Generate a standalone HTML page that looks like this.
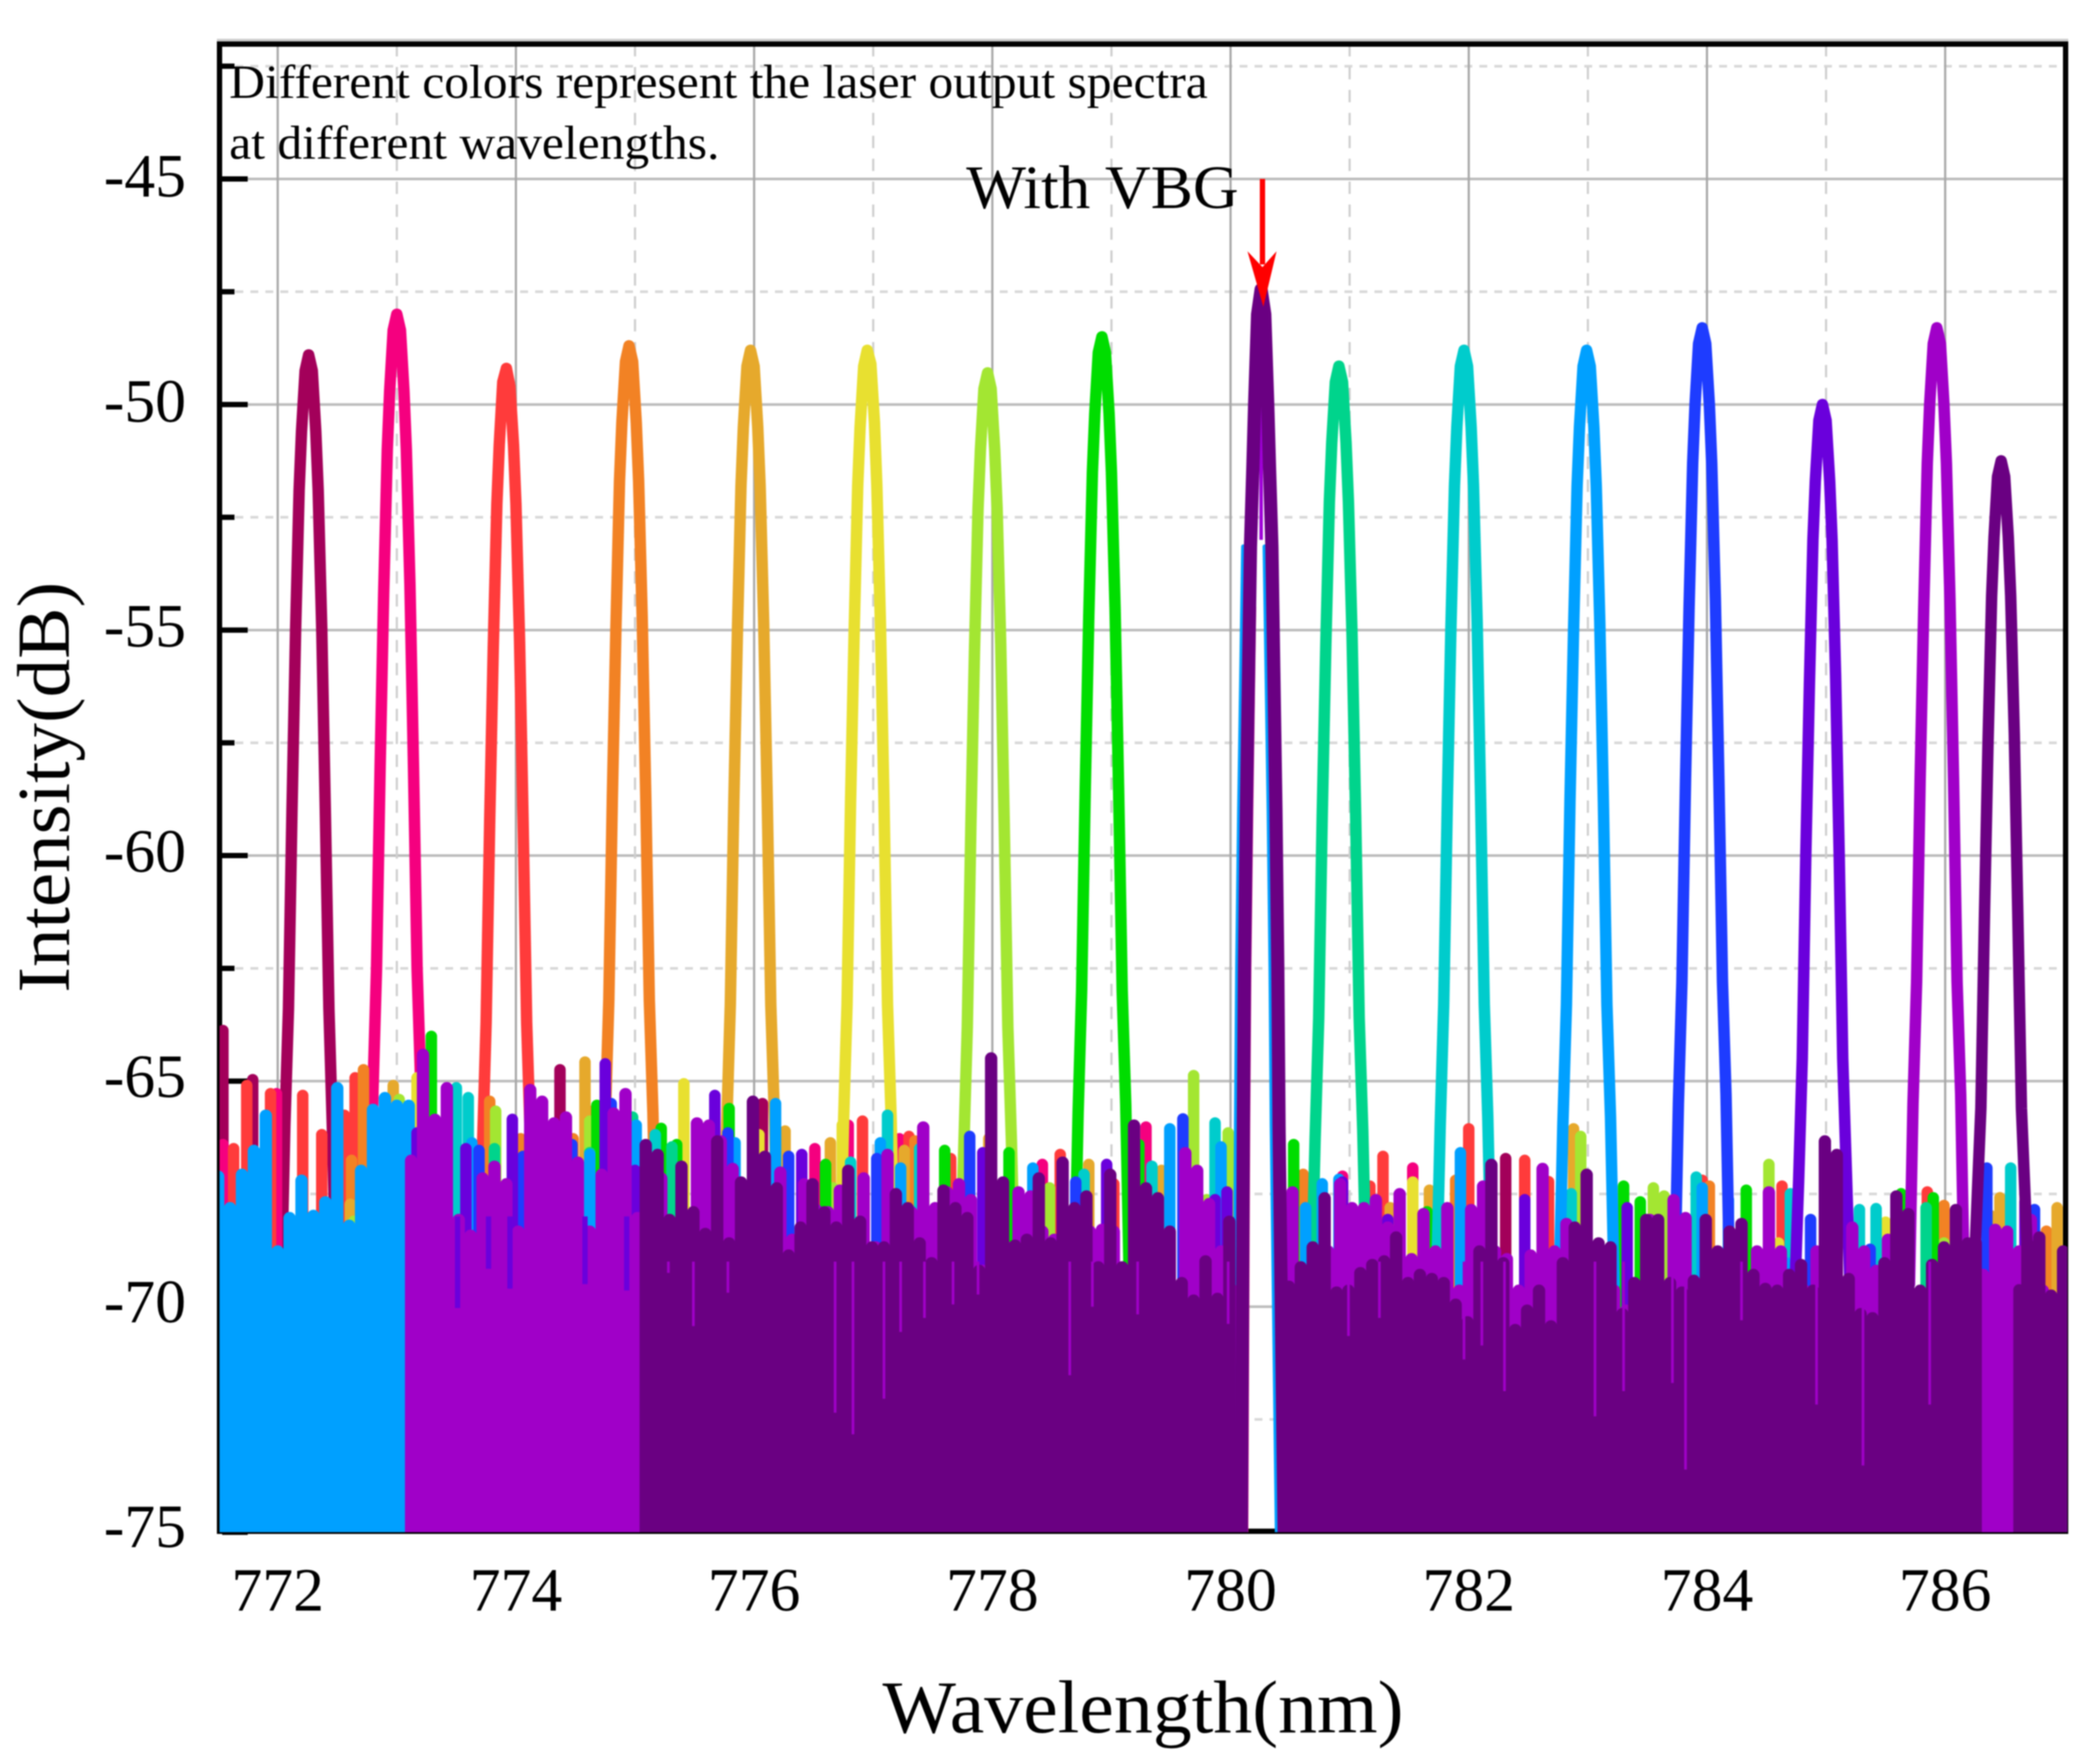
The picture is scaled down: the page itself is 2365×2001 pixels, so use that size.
<!DOCTYPE html>
<html lang="en">
<head>
<meta charset="utf-8">
<title>Laser output spectra with VBG</title>
<style>
html,body{margin:0;padding:0;background:#fff;width:2365px;height:2001px;overflow:hidden}
#chart{display:block;filter:blur(0.9px)}
text{font-family:"Liberation Serif","Times New Roman",serif;fill:#000}
</style>
</head>
<body>
<svg id="chart" xmlns="http://www.w3.org/2000/svg" width="2365" height="2001" viewBox="0 0 2365 2001">
  <defs><clipPath id="plot-clip"><rect x="249" y="50" width="2096" height="1688"/></clipPath></defs>
  <rect x="0" y="0" width="2365" height="2001" fill="#fff"/>
  <g id="grid"></g>
  <line x1="246" y1="45.5" x2="2346" y2="45.5" stroke="#ccc" stroke-width="3"/>
  <rect x="249" y="50" width="2094" height="1687" fill="none" stroke="#000" stroke-width="6"/>
  <g id="ticks"></g>
  <g id="marks" clip-path="url(#plot-clip)"></g>
  <g id="labels"></g>
  <text x="260" y="111" font-size="54" textLength="1110" lengthAdjust="spacingAndGlyphs">Different colors represent the laser output spectra</text>
  <text x="260" y="180" font-size="54" textLength="556" lengthAdjust="spacingAndGlyphs">at different wavelengths.</text>
  <text x="1096" y="236" font-size="70" textLength="309" lengthAdjust="spacingAndGlyphs">With VBG</text>
  <line x1="1432" y1="203" x2="1432" y2="300" stroke="#ff0000" stroke-width="6"/>
  <polygon points="1415,285 1432,303 1448,285 1433,348" fill="#ff0000"/>
  <text x="1001" y="1965" font-size="85" textLength="591" lengthAdjust="spacingAndGlyphs">Wavelength(nm)</text>
  <text transform="translate(78,1126) rotate(-90)" x="0" y="0" font-size="85" textLength="466" lengthAdjust="spacingAndGlyphs">Intensity(dB)</text>
</svg>
<script>
// ---- axis labels and ticks ----
const xMajorTicks = [772, 774, 776, 778, 780, 782, 784, 786];
const xMinorTicks = [773, 775, 777, 779, 781, 783, 785];
const yMajorTicks = [-45, -50, -55, -60, -65, -70, -75];
const yMinorTicks = [-42.5, -47.5, -52.5, -57.5, -62.5, -67.5, -72.5];

// ---- peak centres (nm), one per laser spectrum ----
const peakCenters = [772.26, 773.0, 773.92, 774.95, 775.97, 776.95, 777.96, 778.92, 780.91, 781.96, 782.99, 783.96, 784.97, 785.93, 786.47];
const vbgCenter = 780.257;
const vbgSkyCenter = 780.197;
const vbgPinkCenter = 780.297;

// ---- peak trace: wavelength offset from centre (nm) ----
const peakOffsets = [-0.23, -0.2, -0.17, -0.14, -0.11, -0.08, -0.06, -0.03, 0, 0.03, 0.06, 0.08, 0.11, 0.14, 0.17, 0.2, 0.23];
const vbgOffsets = [-0.167, -0.15, -0.14, -0.124, -0.09, -0.07, -0.055, -0.03, 0, 0.03, 0.055, 0.07, 0.09, 0.124, 0.14, 0.15, 0.195];
const vbgSkyLeftOffsets = [-0.167, -0.15, -0.14, -0.124, -0.09];
const vbgSkyRightOffsets = [0.09, 0.124, 0.14, 0.15, 0.195];
const vbgPinkOffsets = [-0.167, -0.15, -0.14, -0.124, -0.1];

// ---- peak trace intensities (dB) ----
const peakMaroon = [-69.5, -66, -63.4, -59, -55, -51.9, -50.6, -49.25, -48.9, -49.25, -50.6, -51.9, -55, -59, -63.4, -66.1, -69.5];
const peakPink = [-69.5, -65.2, -62.5, -58, -54.2, -51, -49.7, -48.35, -48, -48.35, -49.7, -51, -54, -58, -62.5, -65, -69.5];
const peakRed = [-69.5, -66.4, -63.7, -59.2, -55.4, -52.2, -50.9, -49.5, -49.2, -49.6, -50.9, -52.2, -55.2, -59.2, -63.7, -66.2, -69.5];
const peakOrange = [-69.5, -65.9, -63.2, -58.7, -54.9, -51.7, -50.4, -49.05, -48.7, -49.05, -50.4, -51.7, -54.7, -58.7, -63.2, -65.7, -69.5];
const peakGold = [-69.5, -66, -63.3, -58.8, -55, -51.8, -50.5, -49.15, -48.8, -49.15, -50.5, -51.8, -54.8, -58.8, -63.3, -65.8, -69.5];
const peakYellow = [-69.5, -66, -63.3, -58.8, -55, -51.8, -50.5, -49.15, -48.8, -49.1, -50.4, -51.8, -54.8, -58.8, -63.3, -65.8, -69.5];
const peakLime = [-69.5, -66.5, -63.8, -59.3, -55.5, -52.3, -51, -49.65, -49.3, -49.65, -51, -52.3, -55.3, -59.3, -63.8, -66.3, -69.5];
const peakGreen = [-69.5, -65.7, -63, -58.5, -54.7, -51.5, -50.2, -48.85, -48.5, -48.85, -50.2, -51.5, -54.5, -58.5, -63, -65.5, -69.5];
const peakVbg = [-75.5, -66, -62.5, -59, -53.15, -51.4, -50, -48, -47.45, -48, -50, -51.4, -53.15, -59, -62.5, -66, -75.5];
const peakVbgSkyLeft = [-75.5, -66, -62.5, -59, -53.15];
const peakVbgSkyRight = [-53.15, -59, -62.5, -66, -75.5];
const peakVbgPink = [-75.5, -66, -62.5, -59, -54.5];
const vbgCoreDb = [-48.6, -53];
const peakTeal = [-69.5, -66.3, -63.6, -59.1, -55.3, -52.15, -50.85, -49.5, -49.15, -49.5, -50.85, -52.15, -55.1, -59.1, -63.6, -66.1, -69.5];
const peakCyan = [-69.5, -66, -63.3, -58.8, -55, -51.8, -50.5, -49.15, -48.8, -49.15, -50.5, -51.8, -54.8, -58.8, -63.3, -65.8, -69.5];
const peakSky = [-69.5, -66, -63.3, -58.8, -55, -51.8, -50.5, -49.15, -48.8, -49.15, -50.5, -51.8, -54.8, -58.8, -63.3, -65.8, -69.5];
const peakBlue = [-69.5, -65.5, -62.8, -58.3, -54.5, -51.3, -50, -48.65, -48.3, -48.65, -50, -51.3, -54.3, -58.3, -62.8, -65.3, -69.5];
const peakViolet = [-69.5, -67.2, -64.5, -60, -56.2, -53, -51.7, -50.35, -50, -50.35, -51.7, -53, -56, -60, -64.5, -67, -69.5];
const peakPurple = [-69.5, -65.5, -62.8, -58.3, -54.5, -51.3, -50, -48.65, -48.3, -48.65, -50, -51.3, -54.3, -58.3, -62.8, -65.3, -69.5];
const peakDark = [-69.5, -67.5, -65.6, -61.3, -57.5, -54.25, -52.95, -51.6, -51.25, -51.6, -52.95, -54.25, -57.3, -61.3, -65.6, -67.5, -69.5];

// ---- noise floor readings: wavelengths (nm) and tops (dB) ----
const maroonWl = [771.54, 771.79, 774.37, 774.42, 776.07, 782.31];
const maroonDb = [-63.75, -64.84, -64.62, -65.7, -65.37, -66.59];
const pinkWl = [771.54, 771.99, 776.51, 776.79, 777.22, 778.42, 779.29, 780.94, 781.53];
const pinkDb = [-66.28, -65.15, -66.37, -65.85, -66.15, -66.72, -65.89, -66.98, -66.8];
const redWl = [771.63, 771.74, 771.94, 772.21, 772.37, 772.56, 772.65, 776.91, 777.3, 777.65, 778.57, 779.02, 781.17, 781.28, 782.0, 782.47, 782.67, 783.96, 784.63, 785.85];
const redDb = [-66.37, -64.97, -65.15, -65.19, -66.06, -65.63, -64.8, -65.76, -66.1, -66.59, -66.5, -67.15, -67.2, -66.54, -65.93, -66.63, -67.1, -67.07, -67.2, -67.33];
const orangeWl = [772.62, 772.72, 773.78, 774.04, 774.48, 774.64, 777.35, 780.61, 781.89, 784.02, 785.99, 786.46, 786.85];
const orangeDb = [-66.63, -64.62, -65.32, -66.15, -66.15, -65.54, -66.2, -66.94, -67.07, -67.2, -67.63, -67.46, -68.2];
const goldWl = [772.61, 772.97, 774.58, 776.26, 776.64, 777.26, 777.97, 778.81, 779.42, 781.34, 781.67, 782.88, 786.38, 786.46, 786.94];
const goldDb = [-67.6, -64.97, -64.45, -65.98, -66.24, -66.41, -66.15, -66.72, -66.85, -67.68, -67.29, -65.93, -67.85, -67.46, -67.68];
const yellowWl = [773.17, 775.41, 776.04, 776.74, 781.53, 784.6, 785.5];
const yellowDb = [-64.8, -64.93, -66.06, -65.85, -67.11, -68.46, -68];
const limeWl = [772.64, 773.02, 773.83, 774.62, 776.66, 778.48, 779.69, 779.8, 779.98, 782.94, 783.55, 783.64, 784.52, 785.99];
const limeDb = [-67.98, -65.28, -65.54, -65.76, -67.24, -67.24, -64.75, -67.5, -66.02, -66.1, -67.24, -67.42, -66.72, -68.46];
const greenWl = [773.29, 774.68, 775.22, 775.35, 775.79, 776.6, 777.6, 778.14, 779.23, 780.53, 781.65, 783.3, 783.44, 784.33, 785.63, 785.9];
const greenDb = [-63.88, -65.41, -65.92, -66.28, -65.48, -66.72, -66.41, -66.46, -66.28, -66.28, -67.77, -67.2, -67.55, -67.29, -67.37, -67.46];
const tealWl = [773.82, 774.62, 774.98, 775.31, 785.84];
const tealDb = [-66.37, -66.46, -65.67, -66.33, -67.68];
const cyanWl = [773.5, 773.6, 775.17, 776.81, 777.12, 777.39, 778.77, 779.34, 779.87, 782.86, 783.91, 784.7, 785.28, 785.42, 786.55];
const cyanDb = [-65.02, -65.24, -66.06, -66.67, -65.63, -66.37, -66.94, -66.76, -65.8, -67.37, -67, -67.37, -67.72, -67.7, -66.8];
const skyWl = [773.63, 774.62, 775.01, 775.84, 776.18, 777.06, 777.23, 778.34, 779.49, 779.92, 780.63, 780.77, 780.91, 781.93, 783.96, 784.18, 784.67];
const skyDb = [-66.24, -66.5, -65.85, -66.24, -65.37, -66.24, -66.8, -66.8, -65.93, -66.33, -67.68, -67.15, -67.05, -66.46, -67.24, -67.5, -68.9];
const blueWl = [773.69, 774.06, 774.47, 774.8, 775.78, 776.29, 777.03, 777.81, 778.7, 779.6, 784.87, 785.37, 786.35, 786.75];
const blueDb = [-66.41, -66.54, -66.28, -65.37, -66.02, -66.54, -66.59, -66.1, -67.11, -65.71, -67.94, -68.6, -66.8, -67.72];
const violetWl = [773.17, 773.58, 773.97, 774.75, 775.0, 775.67, 776.4, 777.92, 778.96, 779.87, 779.97, 780.94, 781.32, 782.47, 783.33, 785.99, 786.67];
const violetDb = [-66.02, -66.37, -65.72, -64.49, -66.85, -65.19, -66.5, -66.46, -66.72, -67.5, -67.33, -67.11, -67.94, -67.5, -67.68, -68.77, -67.55];
const darkExtraWl = [786.26, 786.62];
const darkExtraDb = [-68.46, -69.5];

// ---- dense noise floors on a regular wavelength grid (dB) ----
const floorStep = 0.1;
const skyFloorStart = 771.5;
const skyFloorDb = [-66.98, -67.68, -66.94, -66.41, -65.63, -68.64, -67.9, -67.07, -67.85, -67.55, -65.02, -68.07, -66.85, -65.5, -65.24, -65.41, -65.41];
const purpleFloorStart = 773.12;
const purpleFloorDb = [
  -66.63, -64.28, -65.72, -65.02, -67.94, -68.29, -67.02, -66.76, -67.15,
  -68.2, -65.06, -65.32, -65.8, -65.67, -66.67, -68.2, -66.94, -65.58, -65.15,
  -67.9, -68.64, -67.02, -68.64, -68.64, -65.8, -65.85, -66.2, -66.81, -68.64,
  -68.64, -68.64, -66.89, -68.38, -67.15, -67.72, -67.77, -67.29, -68.2, -67.02,
  -68.55, -66.5, -67.77, -67.77, -65.89, -67.68, -67.33, -67.15, -67.5, -69.07,
  -68.2, -68.55, -67.33, -67.42, -68.2, -68.38, -69.07, -68.2, -68.2, -68.16,
  -68.2, -69.51, -68.9, -69.07, -69.07, -69.51, -66.46, -66.85, -67.59, -68.64,
  -69.51, null, null, null, null, -67.33, -69.16, -69.51, -68.64, -67.15,
  -67.68, -67.68, -67.5, -68.11, -67.37, -68.81, -67.81, -68.64, -67.68, -69.51,
  -67.72, -67.2, -68.64, -68.81, -69.51, -68.73, -66.81, -68.64, -68.03, -68.64,
  -69.51, -69.95, -69.51, -69.95, -69.51, -67.94, -69.51, -67.5, -67.9, -69.51,
  -69.51, -69.51, -69.51, -69.51, -68.64, -67.33, -68.64, -69.51, -69.51, -68.64,
  -69.95, -69.51, -68.11, -68.64, -69.07, -68.38, -69.51, null, null, null,
  null, null, -69.51, -69.16, -68.16, -68.2, -68.64, -67.94, -69.51, -69.95, -69.51
];
const darkFloorStart = 775.09;
const darkFloorDb = [
  -66.28, -66.5, -67.94, -66.76, -67.77, -68.25, -66.2, -68.46, -67.11,
  -65.32, -66.54, -67.24, -68.73, -68.11, -67.15, -67.77, -68.11, -66.85, -67.98,
  -68.55, -68.55, -67.37, -67.68, -68.46, -68.9, -67.29, -67.68, -67.9, -69.07,
  -64.36, -67.11, -68.51, -68.38, -67.02, -68.46, -66.67, -67.68, -67.42, -68.99,
  -66.94, -68.99, -65.85, -67.24, -67.46, -68.2, -69.34, -69.73, -68.86, -69.69,
  -67.98, null, null, null, null, -69.42, -68.99, -68.55, -67.46, -69.55,
  -69.51, -69.12, -68.94, -68.86, -68.33, -69.34, -69.16, -69.25, -69.34, -69.82,
  -70.21, -68.64, -66.72, -68.9, -70.38, -69.95, -69.51, -70.3, -68.9, -68.11,
  -66.94, -68.46, -68.55, -70.03, -69.34, -67.94, -67.94, -69.34, -69.55, -69.29,
  -67.94, -68.64, -68.2, -68.03, -69.16, -69.47, -69.51, -69.16, -68.94, -69.51,
  -66.2, -66.5, -69.25, -70.03, -70.12, -68.9, -67.42, -67.81, -69.51, -68.94,
  -68.55, -67.72, -68.46, null, null, null, null, -68.46, -68.33, -69.62, -68.64
];

// ---- narrow dips in the floors: wavelength (nm) and lowest level (dB) ----
const violetDipWl = [773.51, 773.77, 773.95, 774.58, 774.93];
const violetDipDb = [-70.03, -69.16, -69.6, -69.5, -69.64];
const purpleDipWl = [775.28, 775.49, 775.78, 776.68, 776.83, 777.09, 777.23, 777.43, 777.67, 777.88, 778.65, 778.84, 779.22, 779.98, 780.99, 781.25, 781.96, 782.11, 782.3, 783.06, 783.3, 783.71, 783.82, 784.29, 784.92, 785.31, 785.87];
const purpleDipDb = [-69.25, -70.43, -69.69, -72.35, -72.83, -72.04, -70.56, -70.25, -69.95, -69.73, -71.52, -70, -70.17, -70.38, -70.65, -70.25, -71.17, -70.86, -71.87, -72.43, -71.87, -71.69, -73.61, -70.3, -72.17, -73.52, -72.17];

// ---- axis functions ----
function xPos(nm) { return 315 + (nm - 772) * 135.1; }
function yPos(db) { return 203 + (-45 - db) * 51.17; }
const svgNS = 'http://www.w3.org/2000/svg';
const gridG = document.getElementById('grid');
const ticksG = document.getElementById('ticks');
const marksG = document.getElementById('marks');
const labelsG = document.getElementById('labels');
const plotBottom = 1738;

function line(parent, x1, y1, x2, y2, color, width) {
  const el = document.createElementNS(svgNS, 'line');
  el.setAttribute('x1', x1);
  el.setAttribute('y1', y1);
  el.setAttribute('x2', x2);
  el.setAttribute('y2', y2);
  el.setAttribute('stroke', color);
  el.setAttribute('stroke-width', width);
  parent.appendChild(el);
  return el;
}

// grid lines
yMajorTicks.forEach(function (v) {
  const el = line(gridG, 250, yPos(v), 2342, yPos(v), '#bcbcbc', 3);
  
  
});
yMinorTicks.forEach(function (v) {
  const el = line(gridG, 250, yPos(v), 2342, yPos(v), '#d8d8d8', 3);
  el.setAttribute('stroke-dasharray', '9 8');
  
  
});
xMajorTicks.forEach(function (v) {
  const el = line(gridG, xPos(v), 50, xPos(v), plotBottom, '#a8a8a8', 2.5);
  
  
});
xMinorTicks.forEach(function (v) {
  const el = line(gridG, xPos(v), 50, xPos(v), plotBottom, '#cfcfcf', 2.5);
  el.setAttribute('stroke-dasharray', '14 12');
  
  
});

// ticks and labels
yMajorTicks.forEach(function (v) {
  const tick = line(ticksG, 252, yPos(v), 281, yPos(v), '#000', 6);
  
  
  const label = document.createElementNS(svgNS, 'text');
  label.setAttribute('x', 211);
  label.setAttribute('y', yPos(v) + 20 - (-45 - v) * 0.1);
  label.setAttribute('font-size', 70);
  label.setAttribute('text-anchor', 'end');
  label.textContent = String(v);
  
  
  labelsG.appendChild(label);
});
yMinorTicks.forEach(function (v) {
  const tick = line(ticksG, 252, yPos(v), 266, yPos(v), '#000', 6);
  
  
});
xMajorTicks.forEach(function (v) {
  const label = document.createElementNS(svgNS, 'text');
  label.setAttribute('x', xPos(v));
  label.setAttribute('y', 1827);
  label.setAttribute('font-size', 70);
  label.setAttribute('text-anchor', 'middle');
  label.textContent = String(v);
  
  
  labelsG.appendChild(label);
});

// series
function drawStick(group, nm, db, color, width) {
  const el = line(group, xPos(nm), yPos(db) + width / 2, xPos(nm), plotBottom + 10, color, width);
  el.setAttribute('stroke-linecap', 'round');
  
  
}
function drawSparse(group, wls, dbs, color) {
  wls.forEach(function (nm, i) { drawStick(group, nm, dbs[i], color, 13); });
}
function drawFloor(group, start, dbs, color) {
  dbs.forEach(function (db, i) {
    if (db !== null) drawStick(group, start + i * floorStep, db, color, 14);
  });
}
function drawPeak(group, center, offsets, dbs, color, width) {
  const pts = offsets.map(function (o, i) { return xPos(center + o).toFixed(1) + ',' + yPos(dbs[i]).toFixed(1); }).join(' ');
  const el = document.createElementNS(svgNS, 'polyline');
  el.setAttribute('points', pts);
  el.setAttribute('fill', 'none');
  el.setAttribute('stroke', color);
  el.setAttribute('stroke-width', width);
  el.setAttribute('stroke-linejoin', 'round');
  el.setAttribute('stroke-linecap', 'round');
  
  
  group.appendChild(el);
}
function drawDips(group, wls, dbs, topDb, color, width) {
  wls.forEach(function (nm, i) {
    const el = line(group, xPos(nm), yPos(topDb), xPos(nm), yPos(dbs[i]), color, width);
    
    
  });
}
function newSeriesGroup(name) {
  const g = document.createElementNS(svgNS, 'g');
  
  
  marksG.appendChild(g);
  return g;
}

let g;
g = newSeriesGroup('series-maroon');
drawSparse(g, maroonWl, maroonDb, '#a3005a');
drawPeak(g, peakCenters[0], peakOffsets, peakMaroon, '#a3005a', 13);
g = newSeriesGroup('series-pink');
drawSparse(g, pinkWl, pinkDb, '#f5007f');
drawPeak(g, peakCenters[1], peakOffsets, peakPink, '#f5007f', 13);
g = newSeriesGroup('series-red');
drawSparse(g, redWl, redDb, '#ff3b3b');
drawPeak(g, peakCenters[2], peakOffsets, peakRed, '#ff3b3b', 13);
g = newSeriesGroup('series-orange');
drawSparse(g, orangeWl, orangeDb, '#f28224');
drawPeak(g, peakCenters[3], peakOffsets, peakOrange, '#f28224', 13);
g = newSeriesGroup('series-gold');
drawSparse(g, goldWl, goldDb, '#e6a92c');
drawPeak(g, peakCenters[4], peakOffsets, peakGold, '#e6a92c', 13);
g = newSeriesGroup('series-yellow');
drawSparse(g, yellowWl, yellowDb, '#e8e030');
drawPeak(g, peakCenters[5], peakOffsets, peakYellow, '#e8e030', 13);
g = newSeriesGroup('series-lime');
drawSparse(g, limeWl, limeDb, '#a3e632');
drawPeak(g, peakCenters[6], peakOffsets, peakLime, '#a3e632', 13);
g = newSeriesGroup('series-green');
drawSparse(g, greenWl, greenDb, '#00dd00');
drawPeak(g, peakCenters[7], peakOffsets, peakGreen, '#00dd00', 13);
g = newSeriesGroup('series-teal');
drawSparse(g, tealWl, tealDb, '#00d48c');
drawPeak(g, peakCenters[8], peakOffsets, peakTeal, '#00d48c', 13);
g = newSeriesGroup('series-cyan');
drawSparse(g, cyanWl, cyanDb, '#00cccc');
drawPeak(g, peakCenters[9], peakOffsets, peakCyan, '#00cccc', 13);
g = newSeriesGroup('series-sky');
drawFloor(g, skyFloorStart, skyFloorDb, '#00a0ff');
drawSparse(g, skyWl, skyDb, '#00a0ff');
drawPeak(g, peakCenters[10], peakOffsets, peakSky, '#00a0ff', 13);
g = newSeriesGroup('series-blue');
drawSparse(g, blueWl, blueDb, '#1e3cff');
drawPeak(g, peakCenters[11], peakOffsets, peakBlue, '#1e3cff', 13);
g = newSeriesGroup('series-vbg-edges');
drawPeak(g, vbgSkyCenter, vbgSkyLeftOffsets, peakVbgSkyLeft, '#00a0ff', 5);
drawPeak(g, vbgSkyCenter, vbgSkyRightOffsets, peakVbgSkyRight, '#00a0ff', 5);
drawPeak(g, vbgPinkCenter, vbgPinkOffsets, peakVbgPink, '#f5409f', 5);
g = newSeriesGroup('series-violet');
drawSparse(g, violetWl, violetDb, '#6a00dc');
drawPeak(g, peakCenters[12], peakOffsets, peakViolet, '#6a00dc', 13);
g = newSeriesGroup('series-purple');
drawFloor(g, purpleFloorStart, purpleFloorDb, '#a000c8');
drawDips(g, violetDipWl, violetDipDb, -68, '#6a00dc', 6);
drawPeak(g, peakCenters[13], peakOffsets, peakPurple, '#a000c8', 13);
g = newSeriesGroup('series-dark-purple');
drawFloor(g, darkFloorStart, darkFloorDb, '#6a0082');
drawSparse(g, darkExtraWl, darkExtraDb, '#6a0082');
drawDips(g, purpleDipWl, purpleDipDb, -69, '#a000c8', 3);
drawPeak(g, peakCenters[14], peakOffsets, peakDark, '#6a0082', 13);
g = newSeriesGroup('series-vbg');
const vbgCore = line(g, xPos(vbgCenter), yPos(vbgCoreDb[0]), xPos(vbgCenter), yPos(vbgCoreDb[1]), '#a000d8', 4);


drawPeak(g, vbgCenter, vbgOffsets, peakVbg, '#6a0082', 15);
</script>
</body>
</html>
